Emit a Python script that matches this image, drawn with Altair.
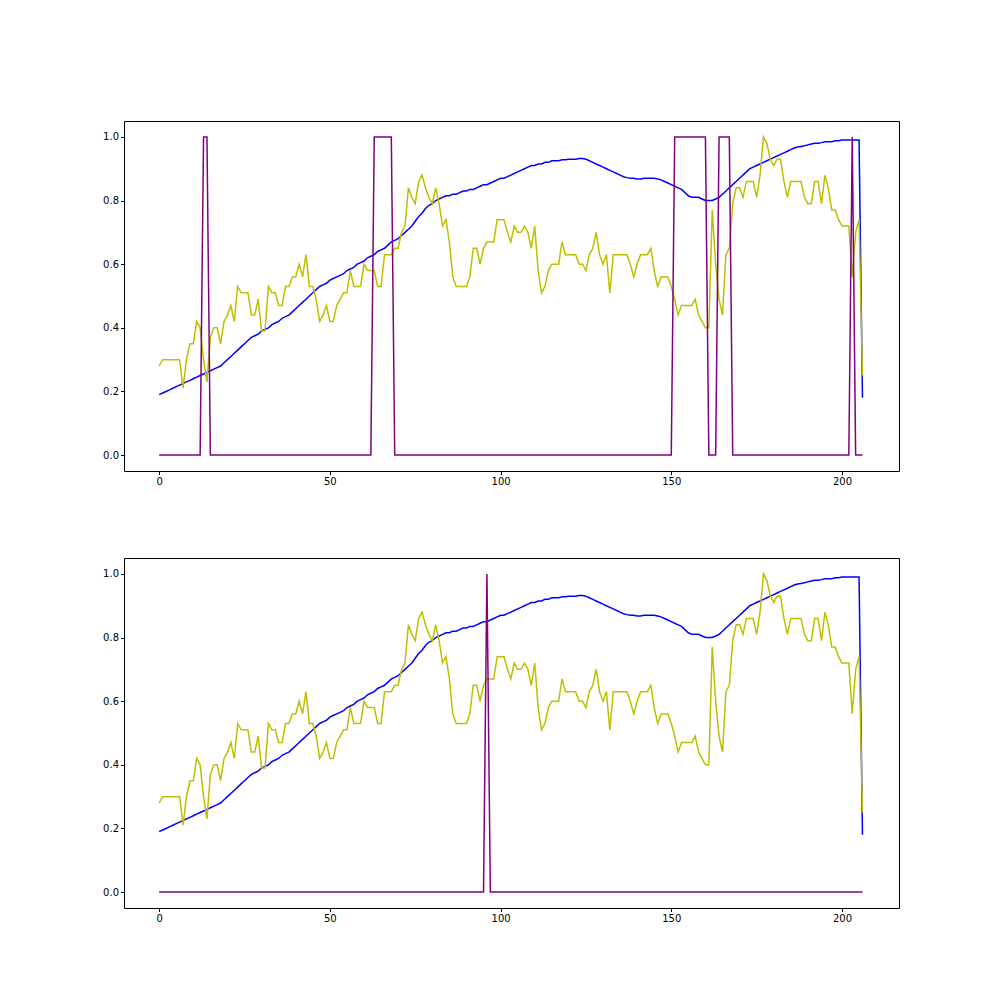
import altair as alt
import pandas as pd

yellow = [0.28, 0.30, 0.30, 0.30, 0.30, 0.30, 0.30, 0.21, 0.30, 0.35,
          0.35, 0.42, 0.40, 0.30, 0.23, 0.37, 0.40, 0.40, 0.35, 0.42,
          0.44, 0.47, 0.42, 0.53, 0.51, 0.51, 0.51, 0.44, 0.44, 0.49,
          0.39, 0.39, 0.53, 0.51, 0.51, 0.47, 0.47, 0.53, 0.53, 0.56,
          0.56, 0.60, 0.56, 0.63, 0.53, 0.53, 0.49, 0.42, 0.44, 0.47,
          0.42, 0.42, 0.47, 0.49, 0.51, 0.51, 0.58, 0.53, 0.53, 0.53,
          0.60, 0.58, 0.58, 0.58, 0.53, 0.53, 0.63, 0.63, 0.63, 0.65,
          0.65, 0.70, 0.72, 0.84, 0.81, 0.79, 0.86, 0.88, 0.84, 0.81,
          0.79, 0.84, 0.79, 0.72, 0.74, 0.67, 0.56, 0.53, 0.53, 0.53,
          0.53, 0.56, 0.65, 0.65, 0.60, 0.65, 0.67, 0.67, 0.67, 0.74,
          0.74, 0.74, 0.70, 0.67, 0.72, 0.70, 0.70, 0.72, 0.70, 0.65,
          0.72, 0.58, 0.51, 0.53, 0.58, 0.60, 0.60, 0.60, 0.67, 0.63,
          0.63, 0.63, 0.63, 0.60, 0.60, 0.58, 0.63, 0.65, 0.70, 0.63,
          0.60, 0.63, 0.51, 0.63, 0.63, 0.63, 0.63, 0.63, 0.60, 0.56,
          0.60, 0.63, 0.63, 0.63, 0.65, 0.58, 0.53, 0.56, 0.56, 0.56,
          0.53, 0.49, 0.44, 0.47, 0.47, 0.47, 0.47, 0.49, 0.44, 0.42,
          0.40, 0.40, 0.77, 0.60, 0.49, 0.44, 0.63, 0.65, 0.79, 0.84,
          0.84, 0.81, 0.86, 0.86, 0.86, 0.81, 0.88, 1.00, 0.98, 0.93,
          0.91, 0.93, 0.93, 0.86, 0.81, 0.86, 0.86, 0.86, 0.86, 0.81,
          0.79, 0.79, 0.86, 0.86, 0.79, 0.88, 0.84, 0.77, 0.77, 0.74,
          0.72, 0.72, 0.72, 0.56, 0.70, 0.74, 0.25]

blue = [0.19, 0.195, 0.20, 0.205, 0.21, 0.215, 0.22, 0.225, 0.23, 0.235,
        0.24, 0.245, 0.25, 0.255, 0.26, 0.265, 0.27, 0.275, 0.28, 0.29,
        0.30, 0.31, 0.32, 0.33, 0.34, 0.35, 0.36, 0.37, 0.375, 0.38,
        0.39, 0.395, 0.40, 0.41, 0.415, 0.42, 0.43, 0.435, 0.44, 0.45,
        0.46, 0.47, 0.48, 0.49, 0.50, 0.51, 0.52, 0.53, 0.535, 0.54,
        0.55, 0.555, 0.56, 0.565, 0.57, 0.58, 0.585, 0.59, 0.60, 0.605,
        0.61, 0.62, 0.625, 0.63, 0.64, 0.645, 0.65, 0.66, 0.67, 0.675,
        0.68, 0.69, 0.70, 0.71, 0.72, 0.735, 0.75, 0.76, 0.775, 0.785,
        0.79, 0.80, 0.805, 0.81, 0.815, 0.815, 0.82, 0.82, 0.825, 0.83,
        0.83, 0.835, 0.835, 0.84, 0.845, 0.85, 0.85, 0.855, 0.86, 0.865,
        0.87, 0.87, 0.875, 0.88, 0.885, 0.89, 0.895, 0.90, 0.905, 0.91,
        0.91, 0.915, 0.915, 0.92, 0.92, 0.925, 0.925, 0.925, 0.928, 0.928,
        0.93, 0.93, 0.93, 0.932, 0.932, 0.93, 0.925, 0.92, 0.915, 0.91,
        0.905, 0.90, 0.895, 0.89, 0.885, 0.88, 0.875, 0.872, 0.87, 0.87,
        0.868, 0.868, 0.87, 0.87, 0.87, 0.87, 0.868, 0.865, 0.86, 0.855,
        0.85, 0.845, 0.84, 0.835, 0.825, 0.815, 0.81, 0.81, 0.81, 0.805,
        0.80, 0.80, 0.80, 0.805, 0.81, 0.82, 0.83, 0.84, 0.85, 0.86,
        0.87, 0.88, 0.89, 0.90, 0.905, 0.91, 0.915, 0.92, 0.925, 0.93,
        0.935, 0.94, 0.945, 0.95, 0.955, 0.96, 0.965, 0.968, 0.97, 0.972,
        0.975, 0.978, 0.98, 0.98, 0.982, 0.985, 0.985, 0.985, 0.988, 0.988,
        0.99, 0.99, 0.99, 0.99, 0.99, 0.99, 0.18]

# indices where the purple signal is on
signal_top_on = [13, 14, 63, 64, 65, 66, 67, 68, 151, 152, 153, 154, 155,
                 156, 157, 158, 159, 160, 164, 165, 166, 167, 203]
signal_bottom_on = [96]

n = len(yellow)
df = pd.DataFrame({
    "i": list(range(n)),
    "yellow": yellow,
    "blue": blue[:n],
    "top": [1.0 if k in signal_top_on else 0.0 for k in range(n)],
    "bottom": [1.0 if k in signal_bottom_on else 0.0 for k in range(n)],
})

x = alt.X("i:Q", title=None, scale=alt.Scale(domain=[-10.3, 216.7], nice=False),
          axis=alt.Axis(values=[0, 50, 100, 150, 200], grid=False))
y_axis = alt.Axis(values=[0, 0.2, 0.4, 0.6, 0.8, 1.0], format=".1f", grid=False)


def panel(sig_col):
    base = alt.Chart(df).encode(x=x)
    blue_line = base.mark_line(color="blue", strokeWidth=1.5).encode(
        y=alt.Y("blue:Q", title=None, axis=y_axis,
                scale=alt.Scale(domain=[-0.05, 1.05], nice=False)))
    yellow_line = base.mark_line(color="#bfbf00", strokeWidth=1.5).encode(y="yellow:Q")
    sig_line = base.mark_line(color="purple", strokeWidth=1.5).encode(y=f"{sig_col}:Q")
    return (blue_line + yellow_line + sig_line).properties(width=775, height=350)


chart = alt.vconcat(panel("top"), panel("bottom"), spacing=70).properties(
    padding={"left": 94, "top": 112, "right": 0, "bottom": 0},
).configure_view(stroke="black", strokeWidth=1).configure_axis(
    domain=False, tickColor="black", labelColor="black", labelFontSize=10,
    labelFont="DejaVu Sans", tickSize=3.5,
)

chart.save("out.html", embed_options={"renderer": "svg", "actions": False})
